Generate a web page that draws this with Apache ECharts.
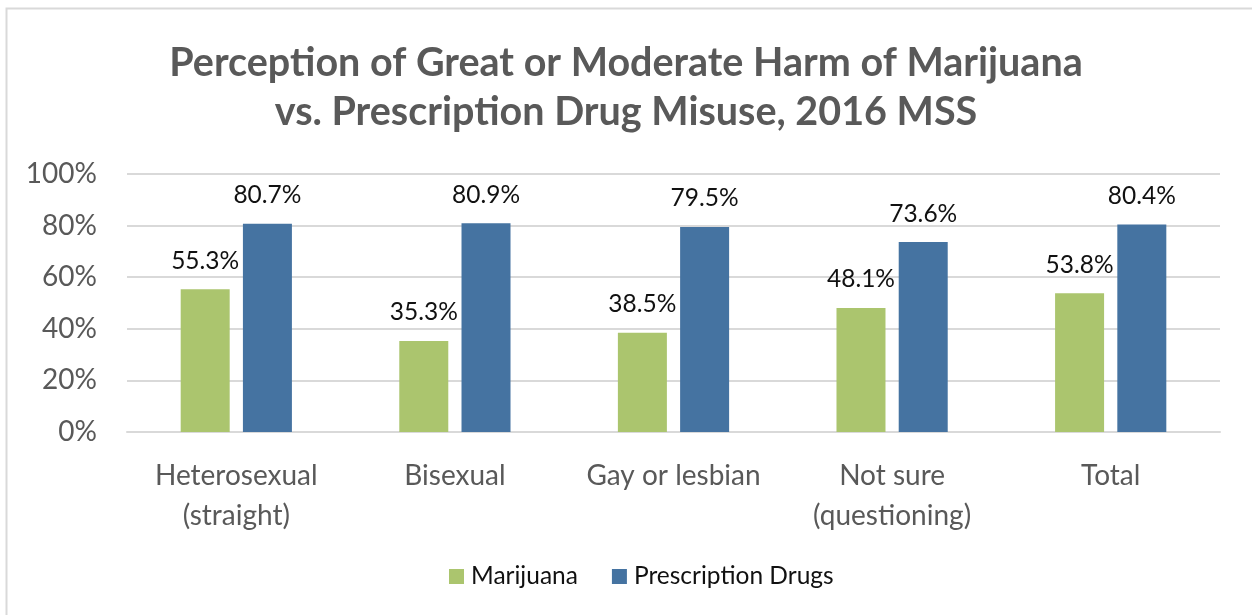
<!DOCTYPE html>
<html>
<head>
<meta charset="utf-8">
<script src="https://cdn.jsdelivr.net/npm/echarts@6/dist/echarts.min.js"></script>
<style>
  html, body { margin: 0; padding: 0; background: #ffffff; }
  #chart { width: 1252px; height: 615px; }
</style>
</head>
<body>
<div id="chart"></div>
<script>
// Groups surveyed
const categories = ['Heterosexual\n(straight)', 'Bisexual', 'Gay or lesbian', 'Not sure\n(questioning)', 'Total'];
// Percent perceiving great or moderate harm
const marijuana = [55.3, 35.3, 38.5, 48.1, 53.8];
const prescriptionDrugs = [80.7, 80.9, 79.5, 73.6, 80.4];
const seriesNames = ['Marijuana', 'Prescription Drugs'];
const titleText = 'Perception of Great or Moderate Harm of Marijuana\nvs. Prescription Drug Misuse, 2016 MSS';

const FONT = 'Lato, "Open Sans", sans-serif';
const GREEN = '#abc56e';
const BLUE = '#4573a1';

const chart = echarts.init(document.getElementById('chart'), null, { renderer: 'canvas' });

const labelStyle = {
  show: true,
  position: 'top',
  distance: 16,
  fontFamily: FONT,
  fontSize: 24.5,
  color: '#111111',
  formatter: p => p.value.toFixed(1) + '%'
};

chart.setOption({
  backgroundColor: '#ffffff',
  animation: false,
  graphic: [{
    type: 'rect',
    shape: { x: 6.5, y: 8.5, width: 1300, height: 700 },
    style: { fill: 'none', stroke: '#d9d9d9', lineWidth: 2 },
    silent: true,
    z: -1
  }],
  title: {
    text: titleText,
    left: 'center',
    top: 34,
    textStyle: {
      fontFamily: FONT,
      fontWeight: 'bold',
      fontSize: 39.5,
      lineHeight: 49,
      color: '#595959'
    }
  },
  legend: {
    bottom: 21,
    left: 444,
    itemWidth: 15,
    itemHeight: 15,
    itemGap: 34,
    icon: 'rect',
    textStyle: { fontFamily: FONT, fontSize: 24.5, color: '#111111', padding: [0, 0, 0, 2] },
    data: seriesNames
  },
  grid: { left: 127, right: 32, top: 174, bottom: 183, containLabel: false },
  xAxis: {
    type: 'category',
    data: categories,
    axisTick: { show: false },
    axisLine: { lineStyle: { color: '#d9d9d9', width: 2 } },
    axisLabel: {
      fontFamily: FONT,
      fontSize: 28,
      lineHeight: 40,
      color: '#595959',
      margin: 24,
      interval: 0
    }
  },
  yAxis: {
    type: 'value',
    min: 0,
    max: 100,
    interval: 20,
    axisLine: { show: false },
    axisTick: { show: false },
    splitLine: { lineStyle: { color: '#d9d9d9', width: 2 } },
    axisLabel: {
      fontFamily: FONT,
      fontSize: 28,
      color: '#595959',
      margin: 30,
      formatter: '{value}%'
    }
  },
  series: [
    {
      name: seriesNames[0],
      type: 'bar',
      data: marijuana,
      barWidth: 49,
      barGap: '27%',
      itemStyle: { color: GREEN },
      label: labelStyle
    },
    {
      name: seriesNames[1],
      type: 'bar',
      data: prescriptionDrugs,
      barWidth: 49,
      barGap: '27%',
      itemStyle: { color: BLUE },
      label: labelStyle
    }
  ]
});
</script>
</body>
</html>
